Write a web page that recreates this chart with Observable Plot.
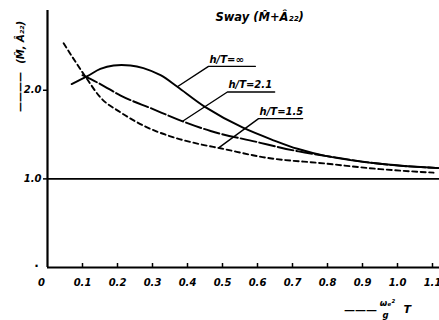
<!DOCTYPE html>
<html>
<head>
<meta charset="utf-8">
<script src="https://cdn.jsdelivr.net/npm/d3@7"></script>
<script src="https://cdn.jsdelivr.net/npm/@observablehq/plot@0.6"></script>
<style>
  html, body { margin: 0; padding: 0; background: #fff; }
  #chart svg { display: block; }
</style>
</head>
<body>
<div id="chart"></div>
<script>
// ---- data ----
const xInf = [0.069, 0.114, 0.151, 0.189, 0.237, 0.274, 0.323, 0.371, 0.451, 0.557, 0.65, 0.714, 0.794, 0.95, 1.123];
const yInf = [2.07, 2.16, 2.24, 2.28, 2.28, 2.25, 2.17, 2.04, 1.81, 1.58, 1.43, 1.34, 1.26, 1.17, 1.12];

const x21 = [0.10, 0.151, 0.209, 0.30, 0.386, 0.466, 0.594, 0.717, 0.794, 0.95, 1.123];
const y21 = [2.17, 2.07, 1.94, 1.79, 1.65, 1.54, 1.42, 1.31, 1.26, 1.17, 1.12];

const x15 = [0.046, 0.109, 0.151, 0.209, 0.28, 0.351, 0.437, 0.494, 0.623, 0.789, 0.95, 1.103];
const y15 = [2.53, 2.15, 1.92, 1.75, 1.59, 1.48, 1.39, 1.345, 1.24, 1.175, 1.11, 1.07];

const xTicks = [0.1, 0.2, 0.3, 0.4, 0.5, 0.6, 0.7, 0.8, 0.9, 1.0, 1.1];
const xTickLabels = ["0.1", "0.2", "0.3", "0.4", "0.5", "0.6", "0.7", "0.8", "0.9", "1.0", "1.1"];
const yTicks = [1, 2];
const yTickLabels = ["1.0", "2.0"];

const annLabels = ["h/T=∞", "h/T=2.1", "h/T=1.5"];
const annCurveX = [0.371, 0.386, 0.489];
const annCurveY = [2.04, 1.65, 1.35];
const annCornerX = [0.46, 0.514, 0.603];
const annCornerY = [2.27, 1.98, 1.68];
const annEndX = [0.594, 0.649, 0.729];

const titleText = "Sway (M̂+Â₂₂)";
const yLabelText = "(M̂, Â₂₂)";
const yLabelDash = "————";
const xLabelDash = "———";
const xLabelNum = "ωₑ²";
const xLabelDen = "g";
const xLabelT = "T";

// ---- build tables ----
const curves = [];
xInf.forEach((x, i) => curves.push({series: "inf", x, y: yInf[i]}));
x21.forEach((x, i) => curves.push({series: "2.1", x, y: y21[i]}));
x15.forEach((x, i) => curves.push({series: "1.5", x, y: y15[i]}));

const leaders = [];
annLabels.forEach((lab, i) => {
  leaders.push({k: i, x: annCurveX[i], y: annCurveY[i]});
  leaders.push({k: i, x: annCornerX[i], y: annCornerY[i]});
  leaders.push({k: i, x: annEndX[i], y: annCornerY[i]});
});
const annText = annLabels.map((t, i) => ({t, x: annCornerX[i], y: annCornerY[i]}));

const font = "'DejaVu Sans', sans-serif";
const lab = {fontWeight: "bold", fontStyle: "italic"};

const chart = Plot.plot({
  width: 439,
  height: 320,
  marginLeft: 47,
  marginRight: 0,
  marginTop: 10,
  marginBottom: 53,
  style: {fontFamily: font, background: "#fff", color: "#000"},
  x: {domain: [0, 1.12]},
  y: {domain: [0, 2.9]},
  marks: [
    Plot.axisX({ticks: xTicks, tickFormat: (d, i) => xTickLabels[i], tickSize: -4, tickPadding: 15,
      fontSize: 10, ...lab, label: null, strokeWidth: 1.5}),
    Plot.axisY({ticks: yTicks, tickFormat: (d, i) => yTickLabels[i], tickSize: 4, tickPadding: 2,
      fontSize: 10, ...lab, label: null, strokeWidth: 1.5}),
    Plot.text(["0"], {x: 0, y: 0, text: d => d, dx: -6, dy: 15, fontSize: 10, ...lab}),
    Plot.text(["."], {x: 0, y: 0, text: d => d, dx: -11, dy: -4, fontSize: 12, fontWeight: "bold"}),
    Plot.ruleX([0], {strokeWidth: 2.2}),
    Plot.ruleY([0], {strokeWidth: 2.2}),
    Plot.ruleY([1], {strokeWidth: 1.6}),
    Plot.line(curves.filter(d => d.series === "inf"), {x: "x", y: "y", curve: "catmull-rom", strokeWidth: 1.9}),
    Plot.line(curves.filter(d => d.series === "2.1"), {x: "x", y: "y", curve: "monotone-x", strokeWidth: 1.9, strokeDasharray: "16,3"}),
    Plot.line(curves.filter(d => d.series === "1.5"), {x: "x", y: "y", curve: "monotone-x", strokeWidth: 1.9, strokeDasharray: "5,3.5"}),
    Plot.line(leaders, {x: "x", y: "y", z: "k", strokeWidth: 1.4}),
    Plot.text(annText, {x: "x", y: "y", text: "t", textAnchor: "start", dx: 1, dy: -7, fontSize: 10, ...lab}),
    Plot.text([titleText], {x: 0.606, y: 2.82, text: d => d, fontSize: 11.5, ...lab}),
    Plot.text([yLabelText], {x: -0.077, y: 2.54, text: d => d, rotate: -90, fontSize: 10, ...lab}),
    Plot.text([yLabelDash], {x: -0.077, y: 1.98, text: d => d, rotate: -90, fontSize: 10, fontWeight: "bold"}),
    Plot.text([xLabelDash], {x: 0.894, y: 0, text: d => d, dy: 43, fontSize: 11, fontWeight: "bold"}),
    Plot.text([xLabelNum], {x: 0.971, y: 0, text: d => d, dy: 36, fontSize: 8.5, ...lab}),
    Plot.text([xLabelDen], {x: 0.966, y: 0, text: d => d, dy: 48, fontSize: 8.5, ...lab}),
    Plot.text([xLabelT], {x: 1.028, y: 0, text: d => d, dy: 42, fontSize: 11, ...lab})
  ]
});
document.getElementById("chart").appendChild(chart);
</script>
</body>
</html>
